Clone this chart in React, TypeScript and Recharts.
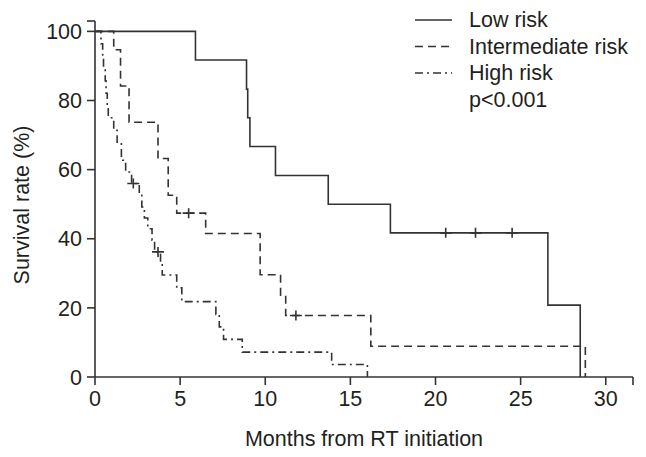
import React from 'react';
import {
  ComposedChart,
  Line,
  Scatter,
  XAxis,
  YAxis,
  Customized,
} from 'recharts';

// Kaplan-Meier steps (months, survival %)
const lowMonths = [0, 5.9, 8.9, 8.97, 9.1, 10.6, 13.7, 17.35, 26.6, 28.5];
const lowSurvival = [100, 91.7, 83.3, 75.0, 66.7, 58.3, 50.0, 41.7, 20.8, 0];
const lowCensorMonths = [20.6, 22.35, 24.5];
const lowCensorSurvival = [41.7, 41.7, 41.7];

const midMonths = [0, 1.1, 1.5, 2.0, 3.7, 4.3, 4.8, 6.5, 9.7, 10.9, 11.2, 16.2, 28.8];
const midSurvival = [100, 94.7, 84.2, 73.7, 63.2, 52.6, 47.4, 41.5, 29.6, 23.7, 17.8, 8.9, 0];
const midCensorMonths = [5.5, 11.8];
const midCensorSurvival = [47.4, 17.8];

const highMonths = [
  0, 0.35, 0.45, 0.5, 0.6, 0.65, 0.72, 0.78, 1.1, 1.3, 1.55, 1.8, 2.15, 2.6, 2.75,
  2.9, 3.1, 3.35, 3.5, 3.85, 3.95, 4.8, 5.1, 7.1, 7.3, 7.55, 8.65, 13.9, 16.0,
];
const highSurvival = [
  100, 96.4, 92.9, 89.3, 85.7, 82.1, 78.6, 75.0, 71.4, 67.9, 62.7, 59.3, 56.0, 52.6, 49.2,
  46.0, 42.9, 39.6, 36.2, 32.9, 29.5, 25.8, 21.8, 18.1, 14.5, 10.9, 7.2, 3.6, 0,
];
const highCensorMonths = [2.25, 3.7];
const highCensorSurvival = [56.0, 36.2];

const xTicks = [0, 5, 10, 15, 20, 25, 30, 31.6];
const yTicks = [0, 20, 40, 60, 80, 100, 103];

const legendItems = ['Low risk', 'Intermediate risk', 'High risk'];
const pValueText = 'p<0.001';

const toPoints = (months: number[], surv: number[]) =>
  months.map((t, i) => ({ t, v: surv[i] }));

const lowData = toPoints(lowMonths, lowSurvival);
const midData = toPoints(midMonths, midSurvival);
const highData = toPoints(highMonths, highSurvival);
const lowCens = toPoints(lowCensorMonths, lowCensorSurvival);
const midCens = toPoints(midCensorMonths, midCensorSurvival);
const highCens = toPoints(highCensorMonths, highCensorSurvival);

const INK = '#333333';
const TEXT = '#231f20';
const FONT = '"Liberation Sans", Arial, Helvetica, sans-serif';
const FS = 21.5;
const dashes = [undefined, '8 5', '8 4 2 4'];

const CrossMark = (props: any) => {
  const { cx, cy } = props;
  if (cx == null || cy == null) return null;
  return (
    <path
      d={`M${cx - 6},${cy}H${cx + 6}M${cx},${cy - 5}V${cy + 5}`}
      stroke={INK}
      strokeWidth={1.6}
      fill="none"
    />
  );
};

const LegendBlock = () => (
  <g fontFamily={FONT} fontSize={FS} fill={TEXT}>
    {legendItems.map((name, i) => {
      const y = 20 + i * 26.5;
      return (
        <g key={name}>
          <line x1={415} x2={452} y1={y} y2={y} stroke={INK} strokeWidth={1.6} strokeDasharray={dashes[i]} />
          <text x={469} y={y} dominantBaseline="central">{name}</text>
        </g>
      );
    })}
    <text x={469} y={20 + 3 * 26.5} dominantBaseline="central">{pValueText}</text>
  </g>
);

export default function App() {
  return (
    <div style={{ position: 'absolute', left: 0, top: 0, background: '#fff' }}>
      <ComposedChart
        width={646}
        height={457}
        margin={{ top: 21, right: 13, bottom: 0, left: 0 }}
      >
        <XAxis
          dataKey="t"
          type="number"
          domain={[0, 31.6]}
          ticks={xTicks}
          interval={0}
          tickFormatter={(v: number) => (v > 30 ? '' : `${v}`)}
          stroke={INK}
          strokeWidth={1.6}
          tickSize={8}
          tickMargin={6}
          height={80}
          tick={{ fill: TEXT, fontSize: FS, fontFamily: FONT }}
          label={{
            value: 'Months from RT initiation',
            position: 'insideBottom',
            offset: 11,
            fill: TEXT,
            fontSize: FS,
            fontFamily: FONT,
          }}
        />
        <YAxis
          type="number"
          domain={[0, 103]}
          ticks={yTicks}
          interval={0}
          tickFormatter={(v: number) => (v > 100 ? '' : `${v}`)}
          stroke={INK}
          strokeWidth={1.6}
          tickSize={8}
          tickMargin={5}
          width={95}
          tick={{ fill: TEXT, fontSize: FS, fontFamily: FONT }}
          label={() => (
            <text
              x={22}
              y={205}
              transform="rotate(-90 22 205)"
              textAnchor="middle"
              dominantBaseline="central"
              fill={TEXT}
              fontSize={FS}
              fontFamily={FONT}
            >
              Survival rate (%)
            </text>
          )}
        />
        <Line data={lowData} dataKey="v" type="stepAfter" stroke={INK} strokeWidth={1.6} dot={false} isAnimationActive={false} />
        <Line data={midData} dataKey="v" type="stepAfter" stroke={INK} strokeWidth={1.6} strokeDasharray={dashes[1]} dot={false} isAnimationActive={false} />
        <Line data={highData} dataKey="v" type="stepAfter" stroke={INK} strokeWidth={1.6} strokeDasharray={dashes[2]} dot={false} isAnimationActive={false} />
        <Scatter data={lowCens} dataKey="v" shape={CrossMark} isAnimationActive={false} />
        <Scatter data={midCens} dataKey="v" shape={CrossMark} isAnimationActive={false} />
        <Scatter data={highCens} dataKey="v" shape={CrossMark} isAnimationActive={false} />
        <Customized component={LegendBlock} />
      </ComposedChart>
    </div>
  );
}
